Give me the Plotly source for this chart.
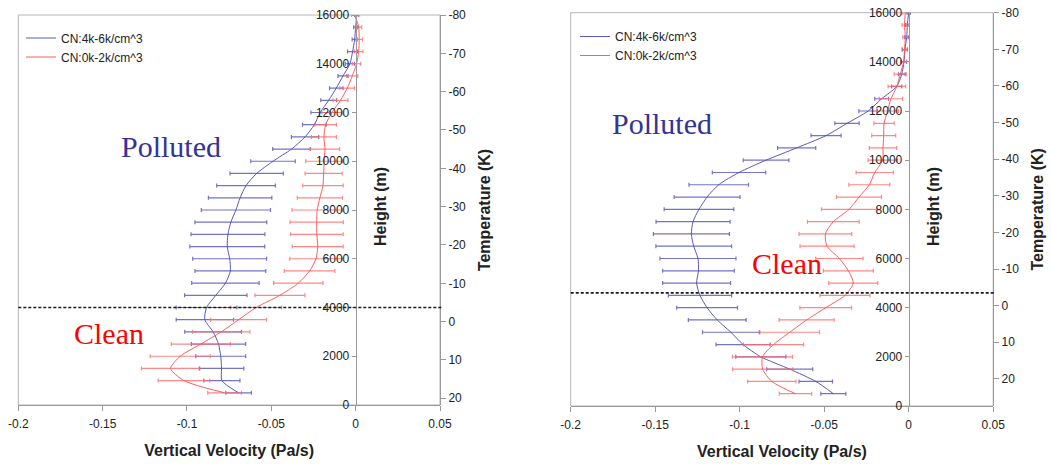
import plotly.graph_objects as go

# ---------------- data ----------------
heights = [500, 1000, 1500, 2000, 2500, 3000, 3500, 4000, 4500, 5000, 5500, 6000,
           6500, 7000, 7500, 8000, 8500, 9000, 9500, 10000, 10500, 11000, 11500, 12000,
           12500, 13000, 13500, 14000, 14500, 15000, 15500, 16000]

series_names = ["CN:4k-6k/cm^3", "CN:0k-2k/cm^3"]

# left panel
polluted_left = [-0.0694, -0.0793, -0.0795, -0.0800, -0.0813, -0.0845, -0.0894, -0.0884,
                 -0.0829, -0.0772, -0.0743, -0.0747, -0.0761, -0.0757, -0.0740, -0.0710,
                 -0.0685, -0.0650, -0.0587, -0.0490, -0.0380, -0.0300, -0.0245, -0.0210,
                 -0.0160, -0.0115, -0.0075, -0.0034, -0.0018, -0.0006, 0.0000, 0.0006]
polluted_left_err = [0.0076, 0.0107, 0.0132, 0.0148, 0.0161, 0.0168, 0.0170, 0.0180,
                     0.0185, 0.0200, 0.0210, 0.0219, 0.0222, 0.0219, 0.0213, 0.0205,
                     0.0188, 0.0174, 0.0158, 0.0132, 0.0112, 0.0081, 0.0070, 0.0055,
                     0.0047, 0.0040, 0.0030, 0.0027, 0.0030, 0.0015, 0.0012, 0.0012]
clean_left = [-0.0777, -0.1018, -0.1097, -0.1040, -0.0918, -0.0797, -0.0694, -0.0590,
              -0.0449, -0.0340, -0.0273, -0.0235, -0.0225, -0.0230, -0.0231, -0.0228,
              -0.0212, -0.0194, -0.0190, -0.0187, -0.0182, -0.0188, -0.0178, -0.0140,
              -0.0090, -0.0050, -0.0020, 0.0005, 0.0018, 0.0021, 0.0018, -0.0005]
clean_left_err = [0.0100, 0.0153, 0.0173, 0.0178, 0.0175, 0.0170, 0.0166, 0.0151,
                  0.0148, 0.0146, 0.0150, 0.0155, 0.0151, 0.0156, 0.0158, 0.0149,
                  0.0134, 0.0120, 0.0110, 0.0109, 0.0087, 0.0074, 0.0064, 0.0060,
                  0.0044, 0.0044, 0.0033, 0.0025, 0.0025, 0.0020, 0.0018, 0.0020]

# right panel
polluted_right = [-0.0446, -0.0550, -0.0704, -0.0875, -0.0980, -0.1052, -0.1133, -0.1193,
                  -0.1235, -0.1255, -0.1244, -0.1247, -0.1272, -0.1286, -0.1276, -0.1241,
                  -0.1193, -0.1124, -0.1004, -0.0844, -0.0663, -0.0489, -0.0365, -0.0240,
                  -0.0160, -0.0071, -0.0041, -0.0028, -0.0022, -0.0012, -0.0008, 0.0000]
polluted_right_err = [0.0074, 0.0099, 0.0136, 0.0148, 0.0160, 0.0168, 0.0171, 0.0180,
                      0.0187, 0.0201, 0.0212, 0.0225, 0.0224, 0.0225, 0.0219, 0.0206,
                      0.0195, 0.0176, 0.0158, 0.0135, 0.0113, 0.0089, 0.0072, 0.0055,
                      0.0041, 0.0030, 0.0020, 0.0015, 0.0015, 0.0012, 0.0010, 0.0010]
clean_right = [-0.0670, -0.0810, -0.0864, -0.0865, -0.0800, -0.0704, -0.0604, -0.0491,
               -0.0377, -0.0328, -0.0357, -0.0410, -0.0483, -0.0493, -0.0446, -0.0353,
               -0.0294, -0.0233, -0.0201, -0.0154, -0.0152, -0.0148, -0.0146, -0.0125,
               -0.0105, -0.0070, -0.0050, -0.0030, -0.0025, -0.0020, -0.0025, -0.0020]
clean_right_err = [0.0096, 0.0143, 0.0178, 0.0178, 0.0178, 0.0176, 0.0163, 0.0153,
                   0.0148, 0.0145, 0.0148, 0.0140, 0.0160, 0.0156, 0.0153, 0.0163,
                   0.0133, 0.0121, 0.0110, 0.0086, 0.0081, 0.0071, 0.0060, 0.0065,
                   0.0069, 0.0052, 0.0036, 0.0018, 0.0015, 0.0015, 0.0015, 0.0015]

x_tickvals = [-0.2, -0.15, -0.1, -0.05, 0, 0.05]
x_ticktext = ["-0.2", "-0.15", "-0.1", "-0.05", "0", "0.05"]
height_ticks = [0, 2000, 4000, 6000, 8000, 10000, 12000, 14000, 16000]
height_ticktext = ["0", "2000", "4000", "6000", "8000", "10000", "12000", "14000", "16000"]
temp_ticks = [-80, -70, -60, -50, -40, -30, -20, -10, 0, 10, 20]
temp_ticktext = ["-80", "-70", "-60", "-50", "-40", "-30", "-20", "-10", "0", "10", "20"]
temp_range_left = [21.75, -80]
temp_range_right = [27.4, -80]
freezing_level_left = 4000
freezing_level_right = 4600

# ---------------- styles ----------------
W, H = 1051, 464
BLUE_LINE = "rgba(80,80,185,0.95)"
BLUE_ERR = "rgba(90,90,190,0.85)"
RED_LINE = "rgba(255,85,85,0.95)"
RED_ERR = "rgba(255,105,105,0.8)"
AXIS_GREY = "#9a9a9a"
TXT = "#222222"
FONT = "Liberation Sans, Arial, sans-serif"
SERIF = "Liberation Serif, Times New Roman, serif"

fig = go.Figure()


def add_series(x, err, color, ecolor, name, xa, ya, legend):
    fig.add_trace(go.Scatter(
        x=x, y=heights, mode="lines", name=name,
        line=dict(color=color, width=1, shape="spline", smoothing=0.7),
        error_x=dict(type="data", array=err, symmetric=True, color=ecolor,
                     thickness=1.2, width=2),
        xaxis=xa, yaxis=ya, legend=legend, hoverinfo="x+y"))


add_series(polluted_left, polluted_left_err, BLUE_LINE, BLUE_ERR, series_names[0], "x", "y", "legend")
add_series(clean_left, clean_left_err, RED_LINE, RED_ERR, series_names[1], "x", "y", "legend")
add_series(polluted_right, polluted_right_err, BLUE_LINE, BLUE_ERR, series_names[0], "x2", "y3", "legend2")
add_series(clean_right, clean_right_err, RED_LINE, RED_ERR, series_names[1], "x2", "y3", "legend2")

# empty traces so that the temperature axes are drawn
for xa, ya in (("x", "y2"), ("x2", "y4")):
    fig.add_trace(go.Scatter(x=[], y=[], xaxis=xa, yaxis=ya, showlegend=False,
                             hoverinfo="skip", mode="lines"))

# domains (pixel based)
xl = [18.3 / W, 440.0 / W]
xr = [570.7 / W, 993.2 / W]
yl = [1 - 405 / H, 1 - 15 / H]
yr = [1 - 406 / H, 1 - 12.7 / H]

tickfont = dict(family=FONT, size=12, color=TXT)
titlefont = dict(family=FONT, size=16, color=TXT, weight="bold")


def xaxis_cfg(domain, anchor):
    return dict(domain=domain, anchor=anchor, range=[-0.2, 0.05], tickvals=x_tickvals,
                ticktext=x_ticktext, showline=True, linecolor=AXIS_GREY, linewidth=1,
                ticks="outside", ticklen=5, tickcolor=AXIS_GREY, showgrid=False,
                zeroline=False, tickfont=tickfont, automargin=False, ticklabelstandoff=3,
                title=dict(text="Vertical Velocity (Pa/s)", font=titlefont, standoff=14))


def height_cfg(domain, pos):
    return dict(domain=domain, anchor="free", position=pos, range=[0, 16000],
                tickvals=height_ticks, ticktext=height_ticktext, showline=True,
                linecolor=AXIS_GREY, linewidth=1, automargin=False,
                ticks="outside", ticklen=4, tickcolor=AXIS_GREY, showgrid=False,
                zeroline=False, tickfont=tickfont, side="left")


def temp_cfg(domain, pos, overlay, rng):
    return dict(domain=domain, anchor="free", position=pos, overlaying=overlay, side="right",
                range=rng, tickvals=temp_ticks, ticktext=temp_ticktext, showline=True,
                linecolor=AXIS_GREY, automargin=False,
                linewidth=1, ticks="outside", ticklen=5, tickcolor=AXIS_GREY,
                showgrid=False, zeroline=False, tickfont=tickfont,
                title=dict(text="Temperature (K)", font=titlefont, standoff=13))


fig.update_layout(
    width=W, height=H, margin=dict(l=0, r=0, t=0, b=0, autoexpand=False),
    paper_bgcolor="white", plot_bgcolor="white",
    xaxis=xaxis_cfg(xl, "y"),
    yaxis=height_cfg(yl, 355.7 / W),
    yaxis2=temp_cfg(yl, xl[1], "y", temp_range_left),
    xaxis2=xaxis_cfg(xr, "y3"),
    yaxis3=height_cfg(yr, 908.7 / W),
    yaxis4=temp_cfg(yr, xr[1], "y3", temp_range_right),
    legend=dict(x=21 / W, y=1 - 23.5 / H, xanchor="left", yanchor="top",
                bgcolor="rgba(0,0,0,0)", font=dict(family=FONT, size=12, color=TXT),
                itemwidth=30, tracegroupgap=0),
    legend2=dict(x=575 / W, y=1 - 22 / H, xanchor="left", yanchor="top",
                 bgcolor="rgba(0,0,0,0)", font=dict(family=FONT, size=12, color=TXT),
                 itemwidth=30, tracegroupgap=0),
    showlegend=True,
)

# frames and freezing-level dashed lines
for xref, yref, lvl in (("x", "y", freezing_level_left), ("x2", "y3", freezing_level_right)):
    fig.add_shape(type="rect", xref=f"{xref} domain", yref=f"{yref} domain",
                  x0=0, x1=1, y0=0, y1=1, line=dict(color="#b5b5b5", width=1), layer="below")
    fig.add_shape(type="line", xref=f"{xref} domain", yref=yref, x0=0, x1=1.005,
                  y0=lvl, y1=lvl, line=dict(color="#1a1a1a", width=1.7, dash="3px,2px"))

# panel labels
labels = [
    ("Polluted", "#333399", "x", "y", -0.1093, 10585),
    ("Clean", "#ff0000", "x", "y", -0.146, 2954),
    ("Polluted", "#333399", "x2", "y3", -0.146, 11500),
    ("Clean", "#ff0000", "x2", "y3", -0.0721, 5805),
]
for text, col, xa, ya, xv, yv in labels:
    fig.add_annotation(text=text, x=xv, y=yv, xref=xa, yref=ya, showarrow=False,
                       font=dict(family=SERIF, size=30, color=col),
                       xanchor="center", yanchor="middle")

# Height titles (to the right of the height axis)
for xp in (381 / W, 934 / W):
    fig.add_annotation(text="Height (m)", x=xp, y=1 - 207 / H, xref="paper", yref="paper",
                       showarrow=False, textangle=-90, font=titlefont,
                       xanchor="center", yanchor="middle")

fig.write_html("out.html")
